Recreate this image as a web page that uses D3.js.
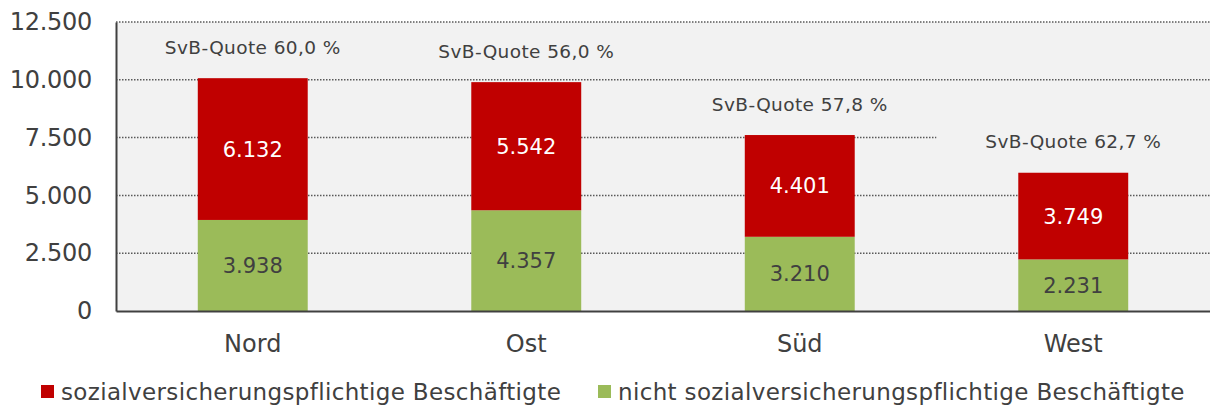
<!DOCTYPE html>
<html>
<head>
<meta charset="utf-8">
<script src="https://cdn.jsdelivr.net/npm/d3@7"></script>
<style>
  body { margin: 0; background: #fff; }
  svg text { font-family: "DejaVu Sans", Verdana, sans-serif; fill: #404040; }
</style>
</head>
<body>
<svg id="chart" width="1210" height="406"></svg>
<script>
// Chart data
var regions = ['Nord', 'Ost', 'Süd', 'West'];
var svbValues = [6132, 5542, 4401, 3749];        // sozialversicherungspflichtig (red, top)
var nonSvbValues = [3938, 4357, 3210, 2231];     // nicht sozialversicherungspflichtig (green, bottom)
var quoteLabels = ['SvB-Quote 60,0 %', 'SvB-Quote 56,0 %', 'SvB-Quote 57,8 %', 'SvB-Quote 62,7 %'];
var yTicks = [0, 2500, 5000, 7500, 10000, 12500];
var legendLabels = ['sozialversicherungspflichtige Beschäftigte', 'nicht sozialversicherungspflichtige Beschäftigte'];

var red = '#c00000', green = '#9bbb59', bg = '#f2f2f2';

var svg = d3.select('#chart');
var margin = {left: 116, right: 0, top: 22, bottom: 95};
var width = 1210 - margin.left - margin.right;
var height = 406 - margin.top - margin.bottom;

var g = svg.append('g').attr('transform', 'translate(' + margin.left + ',' + margin.top + ')');

// Scales
var x = d3.scaleBand().domain(regions).range([0, width]).padding(0);
var y = d3.scaleLinear().domain([0, 12500]).range([height, 0]);
var barW = x.bandwidth() * 0.402;

// Plot background
g.append('rect').attr('width', width).attr('height', height).attr('fill', bg);

// Dotted gridlines
g.append('g')
  .selectAll('line')
  .data(yTicks.filter(function(d){ return d > 0; }))
  .enter().append('line')
  .attr('x1', 0).attr('x2', width)
  .attr('y1', function(d){ return y(d); })
  .attr('y2', function(d){ return y(d); })
  .attr('stroke', '#595959')
  .attr('stroke-width', 1.5)
  .attr('stroke-dasharray', '1.5,1.5');

// Stacked data
var rows = regions.map(function(r, i){
  return {region: r, non: nonSvbValues[i], svb: svbValues[i], quote: quoteLabels[i]};
});

// Bars: green bottom
g.append('g').selectAll('rect')
  .data(rows).enter().append('rect')
  .attr('x', function(d){ return x(d.region) + x.bandwidth() / 2 - barW / 2; })
  .attr('width', barW)
  .attr('y', function(d){ return y(d.non); })
  .attr('height', function(d){ return y(0) - y(d.non); })
  .attr('fill', green);

// Bars: red top
g.append('g').selectAll('rect')
  .data(rows).enter().append('rect')
  .attr('x', function(d){ return x(d.region) + x.bandwidth() / 2 - barW / 2; })
  .attr('width', barW)
  .attr('y', function(d){ return y(d.non + d.svb); })
  .attr('height', function(d){ return y(d.non) - y(d.non + d.svb); })
  .attr('fill', red);

var fmt = function(v){ return d3.format(',')(v).replace(/,/g, '.'); };

// Value labels
g.append('g').selectAll('text')
  .data(rows).enter().append('text')
  .attr('x', function(d){ return x(d.region) + x.bandwidth() / 2; })
  .attr('y', function(d){ return y(d.non / 2); })
  .attr('dy', '0.36em')
  .attr('text-anchor', 'middle')
  .attr('font-size', '21px')
  .text(function(d){ return fmt(d.non); });

g.append('g').selectAll('text')
  .data(rows).enter().append('text')
  .attr('x', function(d){ return x(d.region) + x.bandwidth() / 2; })
  .attr('y', function(d){ return y(d.non + d.svb / 2); })
  .attr('dy', '0.36em')
  .attr('text-anchor', 'middle')
  .attr('font-size', '21px')
  .style('fill', '#fff')
  .text(function(d){ return fmt(d.svb); });

// Quote labels above bars (with background box hiding gridlines)
var q = g.append('g').selectAll('g')
  .data(rows).enter().append('g')
  .attr('transform', function(d){
    return 'translate(' + (x(d.region) + x.bandwidth() / 2) + ',' + (y(d.non + d.svb) - 31) + ')';
  });
q.append('rect')
  .attr('x', -x.bandwidth() / 2).attr('width', x.bandwidth())
  .attr('y', -12).attr('height', 24)
  .attr('fill', bg);
q.append('text')
  .attr('text-anchor', 'middle')
  .attr('dy', '0.36em')
  .attr('font-size', '18.5px')
  .attr('letter-spacing', '0.4px')
  .text(function(d){ return d.quote; });

// Y axis
var yAxis = g.append('g')
  .call(d3.axisLeft(y).tickValues(yTicks).tickSize(0).tickPadding(24).tickFormat(fmt));
yAxis.select('.domain').attr('stroke', '#404040').attr('stroke-width', 2);
yAxis.selectAll('text').attr('font-size', '24px').attr('letter-spacing', '-0.3px').style('fill', '#404040').attr('font-family', null);

// X axis
var xAxis = g.append('g')
  .attr('transform', 'translate(0,' + height + ')')
  .call(d3.axisBottom(x).tickSize(0).tickPadding(24));
xAxis.select('.domain').attr('stroke', '#404040').attr('stroke-width', 2);
xAxis.selectAll('text').attr('font-size', '24px').style('fill', '#404040').attr('font-family', null);

// Legend
var legend = svg.append('g').attr('transform', 'translate(41,0)');
var legendColors = [red, green];
var lx = [0, 557];
legendLabels.forEach(function(lbl, i){
  var item = legend.append('g').attr('transform', 'translate(' + lx[i] + ',0)');
  item.append('rect').attr('x', 0).attr('y', 385).attr('width', 13).attr('height', 13).attr('fill', legendColors[i]);
  item.append('text').attr('x', 20).attr('y', 400).attr('font-size', '23px')
    .attr('letter-spacing', '0.35px').text(lbl);
});
</script>
</body>
</html>
